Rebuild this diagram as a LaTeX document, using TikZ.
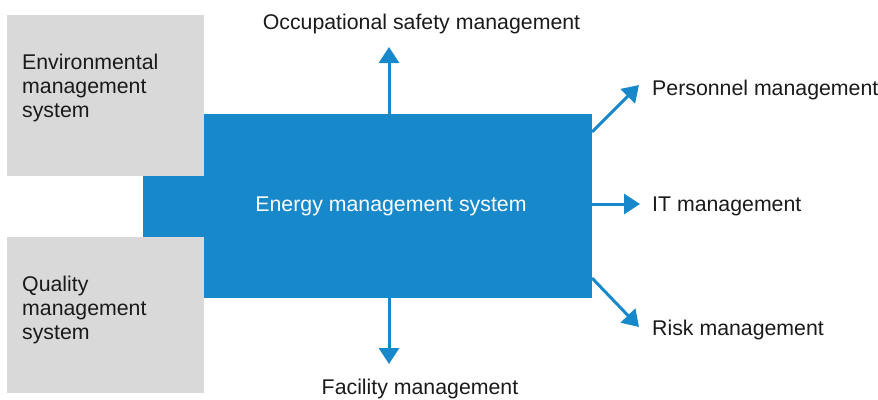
\documentclass[tikz,border=0pt]{standalone}
\usepackage{fontspec}
\setmainfont{Liberation Sans}
\usetikzlibrary{arrows.meta}
\definecolor{emsblue}{HTML}{1788CA}
\definecolor{boxgray}{HTML}{D9D9D9}
\definecolor{txt}{HTML}{1A1A1A}
\tikzset{
  graybox/.style={fill=boxgray,draw=none,inner sep=0pt,anchor=north west},
  lbl/.style={font=\fontsize{21.3}{24}\selectfont,text=txt,inner sep=0pt},
  arr/.style={draw=emsblue,line width=3pt,-{Triangle[width=20pt,length=16pt]}}
}
\begin{document}
\begin{tikzpicture}[x=1pt,y=-1pt]
\useasboundingbox (0,0) rectangle (878,399);
% gray boxes
\node[graybox,minimum width=197pt,minimum height=161pt] (env) at (7,15) {};
\node[graybox,minimum width=197pt,minimum height=156pt] (qual) at (7,237) {};
% blue shape
\node[fill=emsblue,inner sep=0pt,anchor=north west,minimum width=388pt,minimum height=184pt] (ems) at (204,114) {};
\node[fill=emsblue,inner sep=0pt,anchor=north west,minimum width=62pt,minimum height=61pt] (emsext) at (143,176) {};
\node[lbl,text=white] (emstext) at (391,206) {Energy management system};
% gray labels
\node[lbl,anchor=west,align=left] (envtext) at (22,88) {Environmental\\management\\system};
\node[lbl,anchor=west,align=left] (qualtext) at (22,310) {Quality\\management\\system};
% outer labels
\node[lbl] (occ) at (421.5,24) {Occupational safety management};
\node[lbl,anchor=west] (pers) at (652,90) {Personnel management};
\node[lbl,anchor=west] (it) at (652,206) {IT management};
\node[lbl,anchor=west] (risk) at (652,330) {Risk management};
\node[lbl] (fac) at (420,389) {Facility management};
% arrow tips
\coordinate (occtip) at (389,47);
\coordinate (factip) at (389,364);
\coordinate (perstip) at (639,85);
\coordinate (ittip) at (640,204);
\coordinate (risktip) at (639,327);
\coordinate (persstart) at (592,132);
\coordinate (riskstart) at (592,278);
% arrows
\draw[arr] (ems.north -| occtip) -- (occtip);
\draw[arr] (ems.south -| factip) -- (factip);
\draw[arr] (persstart) -- (perstip);
\draw[arr] (ems.east |- ittip) -- (ittip);
\draw[arr] (riskstart) -- (risktip);
\end{tikzpicture}
\end{document}
